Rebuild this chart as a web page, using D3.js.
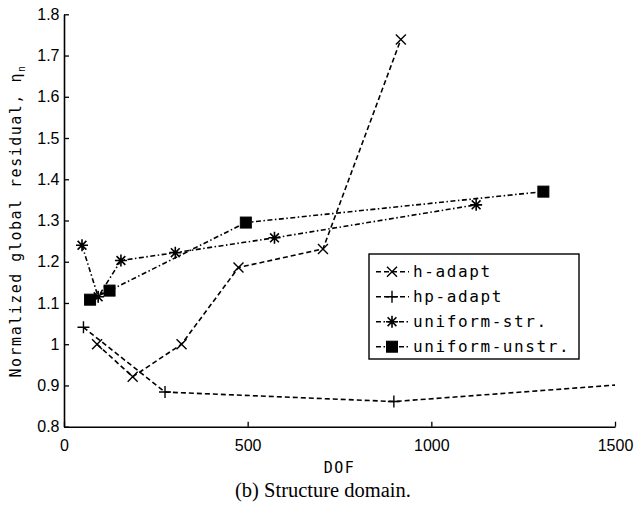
<!DOCTYPE html>
<html>
<head>
<meta charset="utf-8">
<script src="https://cdn.jsdelivr.net/npm/d3@7"></script>
<style>
  html, body { margin: 0; padding: 0; background: #fff; }
  svg { display: block; }
</style>
</head>
<body>
<svg id="chart" width="635" height="505"></svg>
<script>
// ---- data ----
const seriesNames = ["h-adapt", "hp-adapt", "uniform-str.", "uniform-unstr."];
const hAdaptDof = [90, 187, 320, 475, 705, 917];
const hAdaptVal = [1.0, 0.921, 1.0, 1.186, 1.231, 1.739];
const hpAdaptDof = [53, 275, 898, 2000];
const hpAdaptVal = [1.041, 0.884, 0.861, 0.934];
const uniStrDof = [49, 93, 155, 303, 573, 1122];
const uniStrVal = [1.240, 1.115, 1.203, 1.222, 1.258, 1.338];
const uniUnstrDof = [71, 124, 495, 1305];
const uniUnstrVal = [1.108, 1.130, 1.295, 1.370];
const xTicks = [0, 500, 1000, 1500];
const yTicks = [0.8, 0.9, 1.0, 1.1, 1.2, 1.3, 1.4, 1.5, 1.6, 1.7, 1.8];
const yTickLabels = ["0.8", "0.9", "1", "1.1", "1.2", "1.3", "1.4", "1.5", "1.6", "1.7", "1.8"];
const xLabel = "DOF";
const yLabel = "Normalized global residual, η";
const yLabelSub = "n";
const caption = "(b) Structure domain.";

// ---- layout ----
const L = 64, R = 615, T = 14.3, B = 426.7;
const svg = d3.select("#chart");
const x = d3.scaleLinear().domain([0, 1500]).range([L, R]);
const y = d3.scaleLinear().domain([0.8, 1.8]).range([B, T]);

const DASH = "5,3";
const DASHDOT = "5,2.5,1.5,2.5";

const series = [
  { name: seriesNames[0], dof: hAdaptDof, val: hAdaptVal, dash: DASH, marker: "x" },
  { name: seriesNames[1], dof: hpAdaptDof, val: hpAdaptVal, dash: DASH, marker: "plus" },
  { name: seriesNames[2], dof: uniStrDof, val: uniStrVal, dash: DASHDOT, marker: "star" },
  { name: seriesNames[3], dof: uniUnstrDof, val: uniUnstrVal, dash: DASHDOT, marker: "square" }
];

svg.append("defs").append("clipPath").attr("id", "plotclip")
  .append("rect").attr("x", L).attr("y", T - 8).attr("width", R - L).attr("height", B - T + 8);

function drawMarker(g, type, cx, cy) {
  const s = 5;
  if (type === "x") {
    g.append("path").attr("d", `M${cx - s},${cy - s}L${cx + s},${cy + s}M${cx - s},${cy + s}L${cx + s},${cy - s}`)
      .attr("stroke", "#000").attr("stroke-width", 1.4).attr("fill", "none");
  } else if (type === "plus") {
    const p = 6;
    g.append("path").attr("d", `M${cx - p},${cy}L${cx + p},${cy}M${cx},${cy - p}L${cx},${cy + p}`)
      .attr("stroke", "#000").attr("stroke-width", 1.4).attr("fill", "none");
  } else if (type === "star") {
    const p = 6, d = 4.4;
    g.append("path").attr("d",
      `M${cx - p},${cy}L${cx + p},${cy}M${cx},${cy - p}L${cx},${cy + p}` +
      `M${cx - d},${cy - d}L${cx + d},${cy + d}M${cx - d},${cy + d}L${cx + d},${cy - d}`)
      .attr("stroke", "#000").attr("stroke-width", 1.6).attr("fill", "none");
  } else if (type === "square") {
    const q = 5.5;
    g.append("rect").attr("x", cx - q).attr("y", cy - q).attr("width", 2 * q).attr("height", 2 * q)
      .attr("fill", "#000").attr("stroke", "#000").attr("stroke-width", 1);
  }
}

const plot = svg.append("g").attr("clip-path", "url(#plotclip)");
const line = d3.line().x(d => x(d[0])).y(d => y(d[1]));
series.forEach(s => {
  const pts = s.dof.map((d, i) => [d, s.val[i]]);
  plot.append("path").datum(pts).attr("d", line)
    .attr("fill", "none").attr("stroke", "#000").attr("stroke-width", 1.6)
    .attr("stroke-dasharray", s.dash);
  pts.forEach(p => drawMarker(plot, s.marker, x(p[0]), y(p[1])));
});

// ---- axes ----
const tickFont = "'Liberation Sans', Arial, Helvetica, sans-serif";
const xAxis = d3.axisBottom(x).tickValues(xTicks).tickFormat(d3.format("d"))
  .tickSizeInner(-5).tickSizeOuter(0).tickPadding(13);
const yAxis = d3.axisLeft(y).tickValues(yTicks).tickFormat((d, i) => yTickLabels[i])
  .tickSizeInner(-5).tickSizeOuter(0).tickPadding(4.5);

const gx = svg.append("g").attr("transform", `translate(0,${B})`).call(xAxis);
const gy = svg.append("g").attr("transform", `translate(${L},0)`).call(yAxis);
[gx, gy].forEach(g => {
  g.select(".domain").attr("stroke", "#000").attr("stroke-width", 1.6);
  g.selectAll(".tick line").attr("stroke", "#000").attr("stroke-width", 1.3);
  g.selectAll(".tick text").attr("fill", "#000").style("font-family", tickFont).style("font-size", "16px");
});

// ---- axis labels ----
const monoFont = "'DejaVu Sans Mono', 'Liberation Mono', monospace";
svg.append("text").attr("x", (L + R) / 2).attr("y", 473)
  .attr("text-anchor", "middle").style("font-family", monoFont).style("font-size", "15px")
  .style("letter-spacing", "1.5px").text(xLabel);

const yl = svg.append("text").attr("transform", `translate(21,221) rotate(-90)`)
  .attr("text-anchor", "middle").style("font-family", monoFont).style("font-size", "15px")
  .style("letter-spacing", "1.5px");
yl.append("tspan").text(yLabel);
yl.append("tspan").attr("dy", 4).style("font-size", "10px").text(yLabelSub);

// ---- caption ----
svg.append("text").attr("x", 323).attr("y", 496.5).attr("text-anchor", "middle")
  .style("font-family", "'Liberation Serif', 'Times New Roman', serif").style("font-size", "20.5px")
  .text(caption);

// ---- legend ----
const lg = svg.append("g");
lg.append("rect").attr("x", 369).attr("y", 254).attr("width", 210).attr("height", 105)
  .attr("fill", "#fff").attr("stroke", "#000").attr("stroke-width", 1.4);
series.forEach((s, i) => {
  const cy = 271.7 + i * 25;
  lg.append("line").attr("x1", 376).attr("x2", 409).attr("y1", cy).attr("y2", cy)
    .attr("stroke", "#000").attr("stroke-width", 1.6).attr("stroke-dasharray", s.dash);
  drawMarker(lg, s.marker, 392, cy);
  lg.append("text").attr("x", 413).attr("y", cy + 5.5)
    .style("font-family", monoFont).style("font-size", "16px").style("letter-spacing", "1.6px")
    .text(s.name);
});
</script>
</body>
</html>
